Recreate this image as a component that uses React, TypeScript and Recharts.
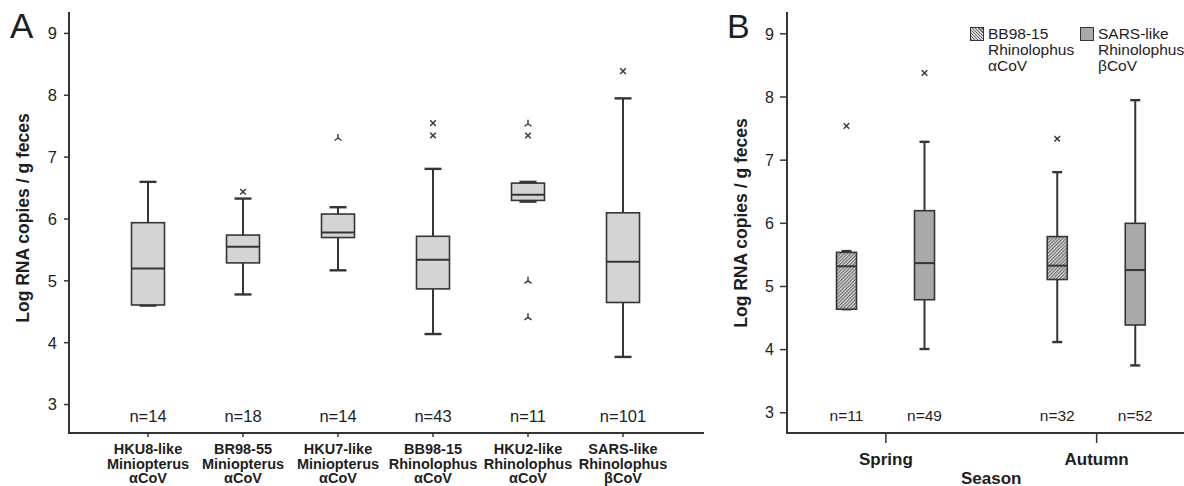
import { Bar, ComposedChart, Label, XAxis, YAxis } from "recharts";

type Outlier = { v: number; k: "x" | "star" };
type Stats = {
  n: number;
  low: number;
  q1: number;
  median: number;
  q3: number;
  high: number;
  outliers: Outlier[];
};

// Panel A: viral lineages
const virusLabels = [
  ["HKU8-like", "Miniopterus", "αCoV"],
  ["BR98-55", "Miniopterus", "αCoV"],
  ["HKU7-like", "Miniopterus", "αCoV"],
  ["BB98-15", "Rhinolophus", "αCoV"],
  ["HKU2-like", "Rhinolophus", "αCoV"],
  ["SARS-like", "Rhinolophus", "βCoV"],
];
const virusN = [14, 18, 14, 43, 11, 101];
const virusLow = [4.6, 4.78, 5.17, 4.14, 6.28, 3.77];
const virusQ1 = [4.61, 5.29, 5.7, 4.87, 6.3, 4.65];
const virusMedian = [5.2, 5.55, 5.78, 5.34, 6.39, 5.31];
const virusQ3 = [5.94, 5.74, 6.08, 5.72, 6.58, 6.1];
const virusHigh = [6.6, 6.33, 6.19, 6.81, 6.6, 7.95];
const virusOutliers: Outlier[][] = [
  [],
  [{ v: 6.44, k: "x" }],
  [{ v: 7.31, k: "star" }],
  [{ v: 7.55, k: "x" }, { v: 7.35, k: "x" }],
  [
    { v: 7.54, k: "star" },
    { v: 7.35, k: "x" },
    { v: 5.0, k: "star" },
    { v: 4.41, k: "star" },
  ],
  [{ v: 8.39, k: "x" }],
];

// Panel B: by season
const seasons = ["Spring", "Autumn"];
const bbN = [11, 32];
const bbLow = [4.64, 4.12];
const bbQ1 = [4.64, 5.11];
const bbMedian = [5.32, 5.33];
const bbQ3 = [5.54, 5.79];
const bbHigh = [5.56, 6.81];
const bbOutliers: Outlier[][] = [[{ v: 7.54, k: "x" }], [{ v: 7.34, k: "x" }]];
const sarsN = [49, 52];
const sarsLow = [4.01, 3.75];
const sarsQ1 = [4.79, 4.39];
const sarsMedian = [5.37, 5.26];
const sarsQ3 = [6.2, 6.0];
const sarsHigh = [7.29, 7.95];
const sarsOutliers: Outlier[][] = [[{ v: 8.38, k: "x" }], []];

const yTicks = [3, 4, 5, 6, 7, 8, 9];

const FONT = '"Liberation Sans", Arial, Helvetica, sans-serif';
const INK = "#1e1e1e";
const LINE = "#353535";

const virusRows = virusLabels.map((lines, i) => ({
  key: lines.join("|"),
  stats: {
    n: virusN[i],
    low: virusLow[i],
    q1: virusQ1[i],
    median: virusMedian[i],
    q3: virusQ3[i],
    high: virusHigh[i],
    outliers: virusOutliers[i],
  } as Stats,
}));

const seasonRows = seasons.map((season, i) => ({
  season,
  bb: {
    n: bbN[i],
    low: bbLow[i],
    q1: bbQ1[i],
    median: bbMedian[i],
    q3: bbQ3[i],
    high: bbHigh[i],
    outliers: bbOutliers[i],
  } as Stats,
  sars: {
    n: sarsN[i],
    low: sarsLow[i],
    q1: sarsQ1[i],
    median: sarsMedian[i],
    q3: sarsQ3[i],
    high: sarsHigh[i],
    outliers: sarsOutliers[i],
  } as Stats,
}));

function OutlierMark({ cx, cy, kind }: { cx: number; cy: number; kind: string }) {
  if (kind === "star") {
    return (
      <path
        d={`M${cx},${cy - 4}L${cx},${cy}M${cx},${cy}L${cx - 3.5},${cy + 2.5}M${cx},${cy}L${cx + 3.5},${cy + 2.5}`}
        stroke={LINE}
        strokeWidth={1.4}
        fill="none"
      />
    );
  }
  return (
    <path
      d={`M${cx - 2.8},${cy - 2.8}L${cx + 2.8},${cy + 2.8}M${cx - 2.8},${cy + 2.8}L${cx + 2.8},${cy - 2.8}`}
      stroke={LINE}
      strokeWidth={1.4}
      fill="none"
    />
  );
}

// The bar is the [low, high] whisker range, so its rect comes from the y scale;
// the other stats are placed along that same linear mapping.
function BoxShape(props: any) {
  const { x, y, width, height, stats, fill, capWidth, nY, nSize } = props;
  if (!stats || width == null) return null;
  const top = Math.min(y, y + height);
  const bottom = Math.max(y, y + height);
  const k = (bottom - top) / (stats.high - stats.low);
  const py = (v: number) => bottom - (v - stats.low) * k;
  const cx = x + width / 2;
  const half = capWidth / 2;
  const yHigh = py(stats.high);
  const yLow = py(stats.low);
  const yQ3 = py(stats.q3);
  const yQ1 = py(stats.q1);
  const yMed = py(stats.median);
  return (
    <g>
      <line x1={cx} x2={cx} y1={yHigh} y2={yLow} stroke={LINE} strokeWidth={2} />
      <line x1={cx - half} x2={cx + half} y1={yHigh} y2={yHigh} stroke={LINE} strokeWidth={2.4} />
      <line x1={cx - half} x2={cx + half} y1={yLow} y2={yLow} stroke={LINE} strokeWidth={2.4} />
      <rect x={x} y={yQ3} width={width} height={yQ1 - yQ3} fill={fill} stroke={LINE} strokeWidth={1.6} />
      <line x1={x} x2={x + width} y1={yMed} y2={yMed} stroke={LINE} strokeWidth={2} />
      {stats.outliers.map((o: Outlier, i: number) => (
        <OutlierMark key={i} cx={cx} cy={py(o.v)} kind={o.k} />
      ))}
      <text
        x={cx}
        y={py(nY)}
        textAnchor="middle"
        dominantBaseline="central"
        fontSize={nSize}
        fontFamily={FONT}
        fill={INK}
      >
        n={stats.n}
      </text>
    </g>
  );
}

function VirusTick({ x, y, payload }: any) {
  const lines = String(payload.value).split("|");
  return (
    <text x={x} y={y} textAnchor="middle" fontSize={14.5} fontWeight={700} fontFamily={FONT} fill={INK}>
      {lines.map((l, i) => (
        <tspan key={i} x={x} y={y + 15.3 + i * 14.5}>
          {l}
        </tspan>
      ))}
    </text>
  );
}

function SeasonTick({ x, y, payload }: any) {
  return (
    <text x={x} y={y + 20} textAnchor="middle" fontSize={17} fontWeight={700} fontFamily={FONT} fill={INK}>
      {payload.value}
    </text>
  );
}

const yTitle = (baseX: number, dy: number) => (props: any) => {
  const vb = props.viewBox;
  const cx = vb.x + baseX;
  const cy = vb.y + vb.height / 2 + dy;
  return (
    <text
      x={cx}
      y={cy}
      transform={`rotate(-90 ${cx} ${cy})`}
      textAnchor="middle"
      fontSize={17.5}
      fontWeight={700}
      fontFamily={FONT}
      fill={INK}
    >
      Log RNA copies / g feces
    </text>
  );
};

const seasonPadLeft = -6.5;

const seasonTitle = (props: any) => {
  const vb = props.viewBox;
  const cx = vb.x + seasonPadLeft + (vb.width - seasonPadLeft) / 2;
  return (
    <text x={cx} y={483.5} textAnchor="middle" fontSize={17} fontWeight={700} fontFamily={FONT} fill={INK}>
      Season
    </text>
  );
};

const axisLine = { stroke: LINE, strokeWidth: 2, strokeLinecap: "square" as const };
const tickLine = { stroke: LINE, strokeWidth: 1.5 };

function LegendItem({ left, swatch, lines }: { left: number; swatch: React.CSSProperties; lines: string[] }) {
  return (
    <div style={{ position: "absolute", left, top: 26 }}>
      <div
        style={{
          position: "absolute",
          left: 0,
          top: 1,
          width: 12,
          height: 12,
          border: `1.6px solid ${LINE}`,
          ...swatch,
        }}
      />
      <div
        style={{
          position: "absolute",
          left: 18,
          top: 0,
          fontSize: 15.5,
          lineHeight: "16.2px",
          whiteSpace: "nowrap",
          color: INK,
        }}
      >
        {lines.map((l) => (
          <div key={l}>{l}</div>
        ))}
      </div>
    </div>
  );
}

export default function App() {
  return (
    <div
      style={{
        position: "absolute",
        left: 0,
        top: 0,
        width: 1184,
        height: 486,
        overflow: "hidden",
        background: "#fff",
        fontFamily: FONT,
      }}
    >
      <svg width={0} height={0} style={{ position: "absolute" }}>
        <defs>
          <pattern id="bbHatch" patternUnits="userSpaceOnUse" width={2.4} height={2.4} patternTransform="rotate(45)">
            <rect width={2.4} height={2.4} fill="#d6d6d6" />
            <rect width={1.1} height={2.4} fill="#6a6a6a" />
          </pattern>
        </defs>
      </svg>

      <div style={{ position: "absolute", left: 0, top: 0 }}>
        <ComposedChart width={712} height={486} data={virusRows} margin={{ top: 13, right: 9, bottom: 0, left: 0 }}>
          <XAxis
            dataKey="key"
            height={53}
            padding={{ left: 31.5, right: 32.5 }}
            axisLine={axisLine}
            tickLine={tickLine}
            tickSize={4}
            tick={<VirusTick />}
            interval={0}
          />
          <XAxis xAxisId="top" orientation="top" dataKey="key" height={0} tick={false} tickLine={false} axisLine={axisLine} />
          <YAxis
            type="number"
            width={69}
            domain={[2.54, 9.33]}
            ticks={yTicks}
            allowDataOverflow
            axisLine={axisLine}
            tickLine={tickLine}
            tickSize={5}
            tickMargin={7}
            tick={{ fill: INK, fontSize: 16.5, fontFamily: FONT }}
          >
            <Label content={yTitle(29.2, -5)} />
          </YAxis>
          <YAxis
            yAxisId="right"
            orientation="right"
            width={0}
            domain={[2.54, 9.33]}
            allowDataOverflow
            tick={false}
            tickLine={false}
            axisLine={axisLine}
          />
          <Bar
            dataKey={(r: any) => [r.stats.low, r.stats.high]}
            barSize={33}
            isAnimationActive={false}
            shape={(p: any) => (
              <BoxShape {...p} stats={p.payload.stats} fill="#d4d4d4" capWidth={17} nY={2.81} nSize={16.5} />
            )}
          />
        </ComposedChart>
      </div>

      <div style={{ position: "absolute", left: 720, top: 0 }}>
        <ComposedChart
          width={490}
          height={486}
          data={seasonRows}
          barGap={58}
          margin={{ top: 13, right: 8, bottom: 0, left: 0 }}
        >
          <XAxis
            dataKey="season"
            height={53}
            padding={{ left: seasonPadLeft, right: 0 }}
            axisLine={axisLine}
            tickLine={tickLine}
            tickSize={10}
            tick={<SeasonTick />}
            interval={0}
          >
            <Label content={seasonTitle} />
          </XAxis>
          <XAxis xAxisId="top" orientation="top" dataKey="season" height={0} tick={false} tickLine={false} axisLine={axisLine} />
          <YAxis
            type="number"
            width={67}
            domain={[2.68, 9.33]}
            ticks={yTicks}
            allowDataOverflow
            axisLine={axisLine}
            tickLine={tickLine}
            tickSize={7}
            tickMargin={6}
            tick={{ fill: INK, fontSize: 16, fontFamily: FONT }}
          >
            <Label content={yTitle(27.2, 0)} />
          </YAxis>
          <YAxis
            yAxisId="right"
            orientation="right"
            width={0}
            domain={[2.68, 9.33]}
            allowDataOverflow
            tick={false}
            tickLine={false}
            axisLine={axisLine}
          />
          <Bar
            dataKey={(r: any) => [r.bb.low, r.bb.high]}
            barSize={20}
            isAnimationActive={false}
            shape={(p: any) => (
              <BoxShape {...p} stats={p.payload.bb} fill="url(#bbHatch)" capWidth={10} nY={2.965} nSize={15.5} />
            )}
          />
          <Bar
            dataKey={(r: any) => [r.sars.low, r.sars.high]}
            barSize={20}
            isAnimationActive={false}
            shape={(p: any) => (
              <BoxShape {...p} stats={p.payload.sars} fill="#a9a9a9" capWidth={10} nY={2.965} nSize={15.5} />
            )}
          />
        </ComposedChart>
      </div>

      <LegendItem
        left={970}
        swatch={{ background: "repeating-linear-gradient(45deg, #6a6a6a 0 1px, #d6d6d6 1px 2.2px)" }}
        lines={["BB98-15", "Rhinolophus", "αCoV"]}
      />
      <LegendItem left={1080} swatch={{ background: "#a9a9a9" }} lines={["SARS-like", "Rhinolophus", "βCoV"]} />

      <svg width={1184} height={486} style={{ position: "absolute", left: 0, top: 0, pointerEvents: "none" }}>
        <text x={10} y={38} fontSize={35} fontFamily={FONT} fill={INK}>
          A
        </text>
        <text x={727} y={38} fontSize={34} fontFamily={FONT} fill={INK}>
          B
        </text>
      </svg>
    </div>
  );
}
